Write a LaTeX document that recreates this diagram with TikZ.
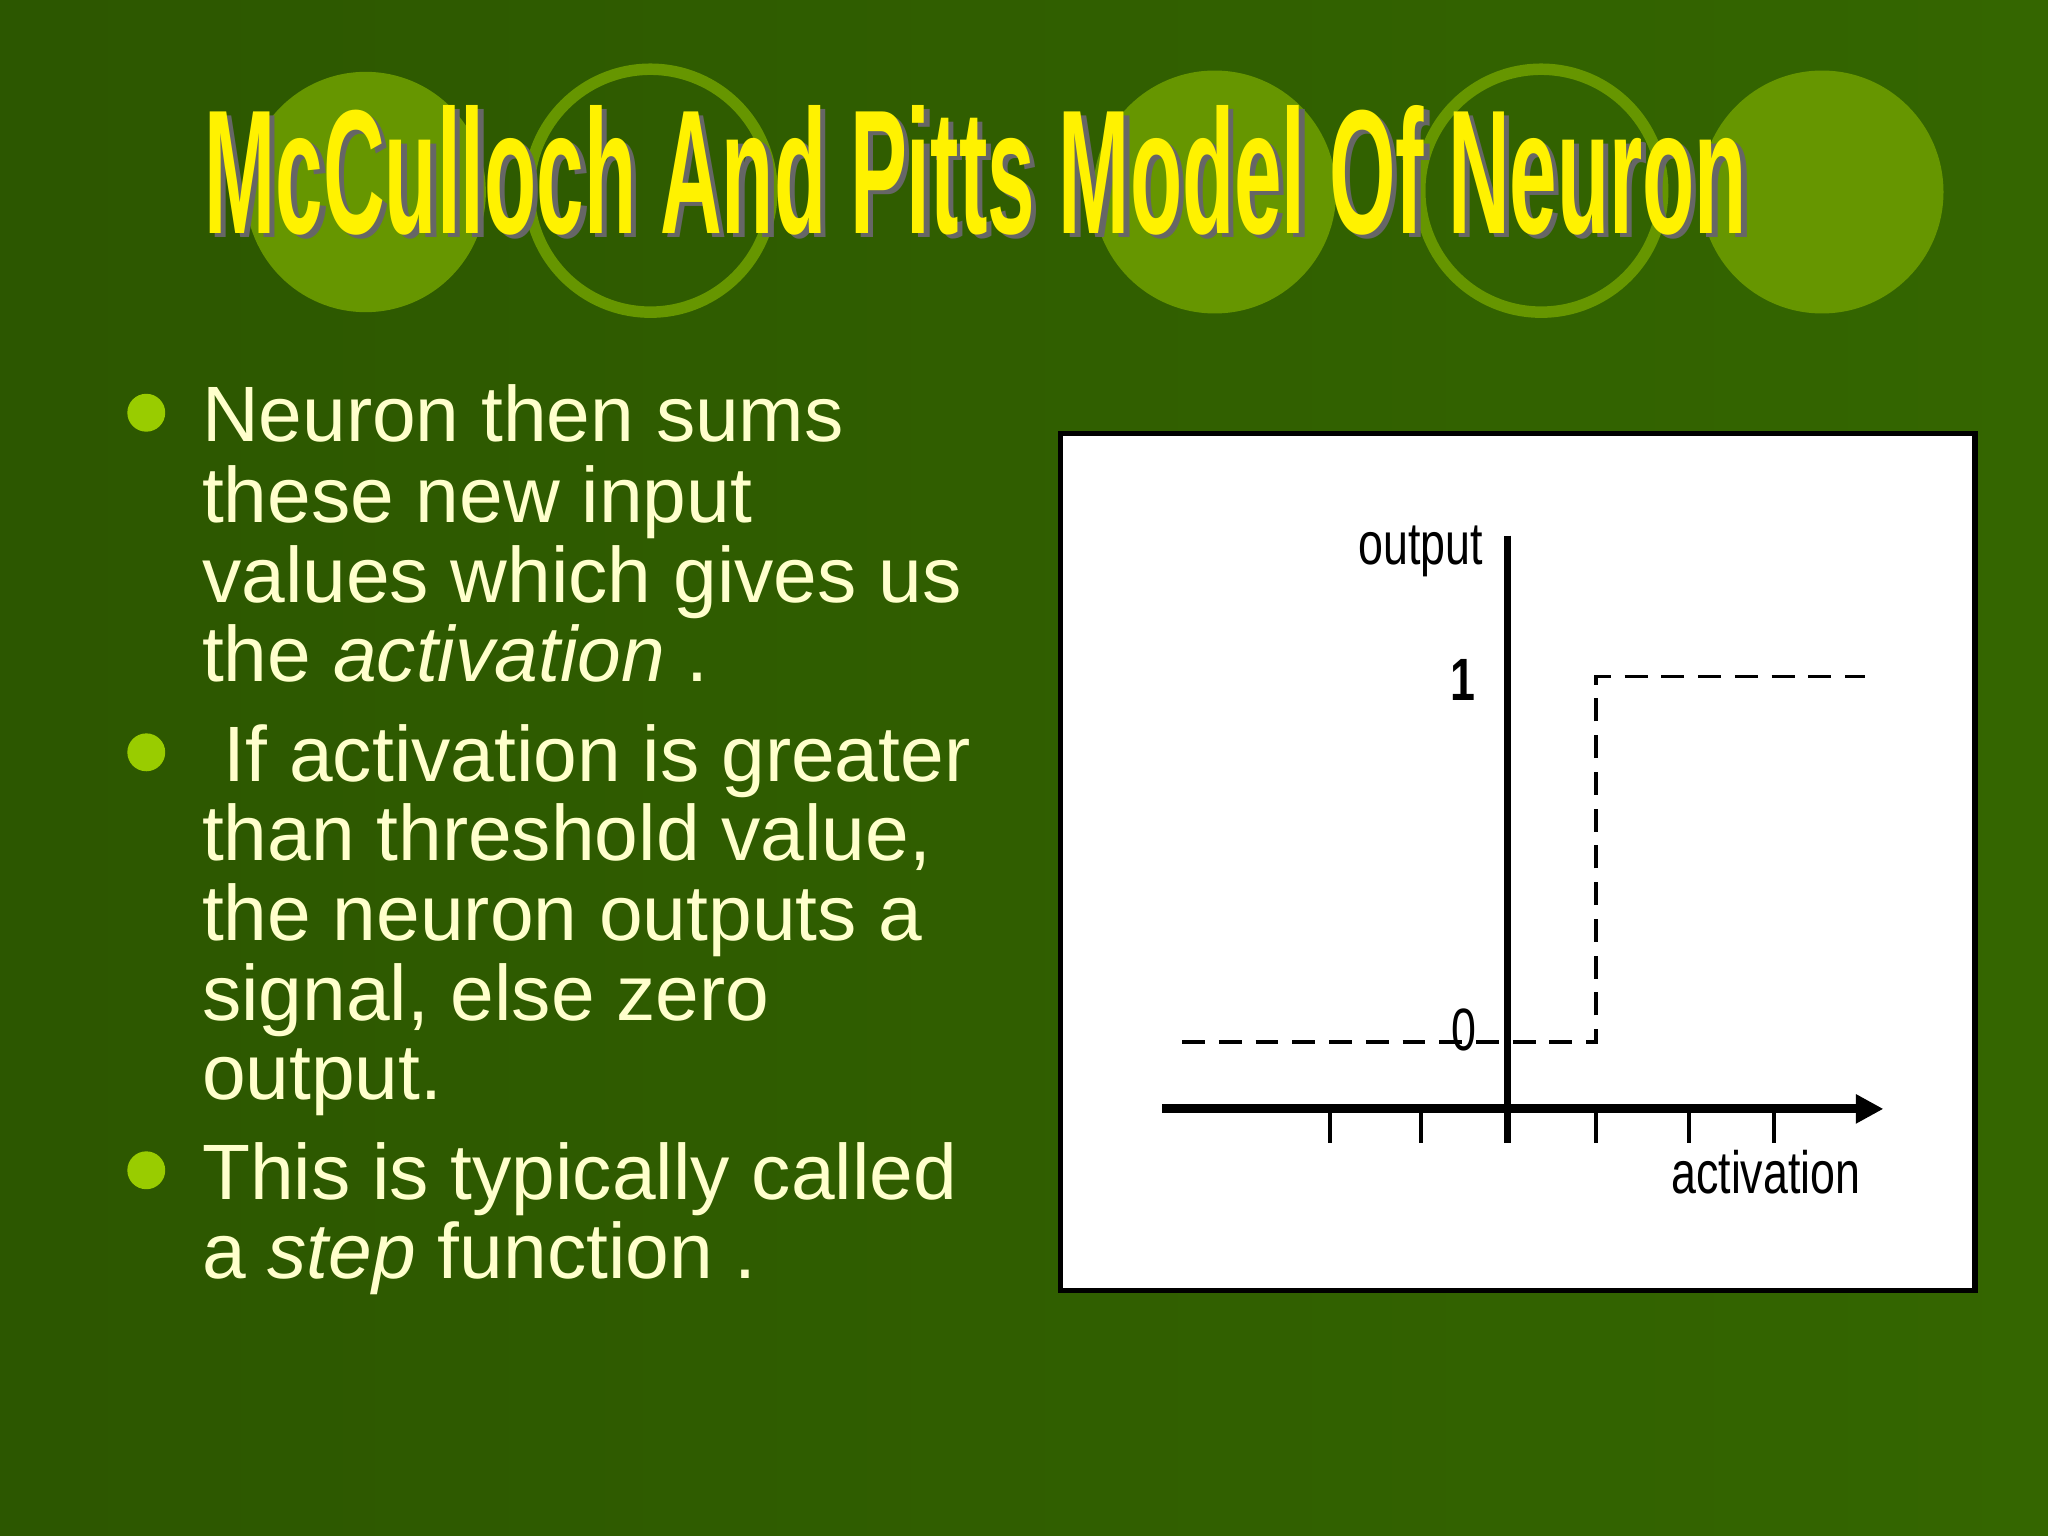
\documentclass[tikz,border=0pt]{standalone}
\usepackage{fontspec}
\setmainfont{Liberation Sans}
\usetikzlibrary{arrows.meta}
\definecolor{bg}{RGB}{52,102,0}
\definecolor{circ}{RGB}{102,150,0}
\definecolor{bul}{RGB}{153,204,0}
\definecolor{txt}{RGB}{255,255,204}
\tikzset{
 fillc/.style={fill=circ},
 ringc/.style={draw=circ,line width=2.5pt},
 body/.style={anchor=base west,text=txt,font=\fontsize{17.1}{18}\selectfont,inner sep=0},
 bulletdot/.style={circle,fill=bul,minimum size=0.29cm,inner sep=0},
 lbl/.style={font=\fontsize{13}{14}\selectfont,xscale=0.75,inner sep=0},
 dsh/.style={dash pattern=on 5pt off 3pt,line width=0.8pt}
}
\begin{document}
\begin{tikzpicture}[x=0.01cm,y=-0.01cm]
\useasboundingbox (0,0) rectangle (1568,1176);
\fill[left color=bg!85!black,right color=bg] (0,0) rectangle (1568,1176);
\fill[fillc] (280,147) circle (92);
\draw[ringc] (498,146) circle (93);
\fill[fillc] (930,147) circle (93);
\draw[ringc] (1180,146) circle (93);
\fill[fillc] (1395,147) circle (93);
\node[anchor=north west,inner sep=0,text=black!60] (tsh) at (160,83) {\resizebox{11.8cm}{0.98cm}{\bfseries McCulloch And Pitts Model Of Neuron}};
\node[anchor=north west,inner sep=0,text=yellow] (title) at (156,80) {\resizebox{11.8cm}{0.98cm}{\bfseries McCulloch And Pitts Model Of Neuron}};
\node[bulletdot] (b1) at (112,316) {};
\node[bulletdot] (b2) at (112,576) {};
\node[bulletdot] (b3) at (112,896) {};
\node[body] (l1) at (154,338) {Neuron then sums};
\node[body] (l2) at (154,400) {these new input};
\node[body] (l3) at (154,461) {values which gives us};
\node[body] (l4) at (154,522) {the \textit{activation} .};
\node[body] (l5) at (154,598) {\ If activation is greater};
\node[body] (l6) at (154,659) {than threshold value,};
\node[body] (l7) at (154,720) {the neuron outputs a};
\node[body] (l8) at (154,781) {signal, else zero};
\node[body] (l9) at (154,842) {output.};
\node[body] (l10) at (154,918) {This is typically called};
\node[body] (l11) at (154,979) {a \textit{step} function .};
\draw[fill=white,line width=1.2pt] (812,332) rectangle (1512,988);
\coordinate (yt) at (1154,410); \coordinate (yb) at (1154,875);
\coordinate (xl) at (890,849); \coordinate (xr) at (1442,849);
\draw[line width=1.5pt] (yt) -- (yb);
\draw[line width=2pt,-{Triangle[length=6pt,width=6pt]}] (xl) -- (xr);
\foreach \t in {1018,1088,1154,1222,1293,1358} \draw[line width=0.9pt] (\t,849) -- (\t,875);
\coordinate (a) at (905,798); \coordinate (b) at (1222,798);
\coordinate (c) at (1222,518); \coordinate (d) at (1428,518);
\draw[dsh] (a) -- (b) -- (c) -- (d);
\node[lbl,anchor=base east] (out) at (1136,432) {output};
\node[lbl,anchor=base east,font=\bfseries\fontsize{13}{14}\selectfont] (one) at (1130,536) {1};
\node[lbl,anchor=base east] (zero) at (1131,804) {0};
\node[lbl,anchor=base] (act) at (1352,914) {activation};
\end{tikzpicture}
\end{document}
